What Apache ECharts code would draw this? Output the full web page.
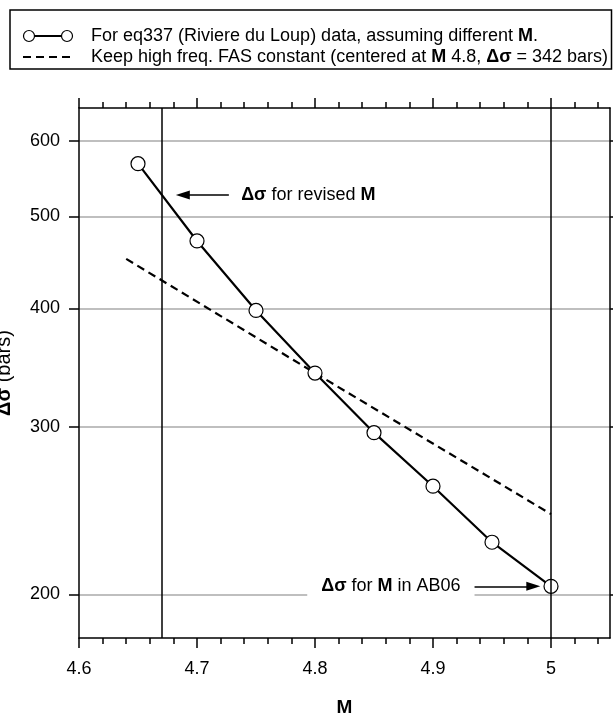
<!DOCTYPE html>
<html><head><meta charset="utf-8">
<script src="https://cdn.jsdelivr.net/npm/echarts@6/dist/echarts.min.js"></script>
<style>html,body{margin:0;padding:0;background:#fff}#c{width:613px;height:715px}</style>
</head><body><div id="c"></div>
<script>
// ---- data ----
const magnitudes = [4.65, 4.70, 4.75, 4.80, 4.85, 4.90, 4.95, 5.00];
const stressDrops = [568, 471, 398, 342, 296, 260, 227, 204];
const constFasM = [4.64, 4.80, 5.00];
const constFasStress = [451, 342, 243];
const yTickValues = [200, 300, 400, 500, 600];
const xMajorTicks = [4.6, 4.7, 4.8, 4.9, 5.0];
const xMinorTicks = [4.62, 4.64, 4.66, 4.68, 4.72, 4.74, 4.76, 4.78, 4.82, 4.84, 4.86, 4.88, 4.92, 4.94, 4.96, 4.98, 5.02, 5.04];
const revisedM = 4.67;
const ab06M = 5.0;
// annotation anchors (data coords)
const arrowRevised = [[4.727, 526.5], [4.688, 526.5]];
const arrowAB06 = [[4.934, 204], [4.985, 204]];
const labelRevisedAt = [4.737, 526.5];
const labelAB06At = [4.793, 204];

const FONT = "'Liberation Sans', Arial, Helvetica, sans-serif";
const BLACK = '#000';

const chart = echarts.init(document.getElementById('c'), null, {renderer: 'canvas'});

function xAxisDef(pos, major) {
  return {
    type: 'value', position: pos, min: 4.6, max: 5.05,
    axisLine: {show: major, onZero: false, lineStyle: {color: BLACK, width: 1.5}},
    axisTick: {show: true, inside: false, length: major ? 10 : 6,
      customValues: major ? xMajorTicks : xMinorTicks,
      lineStyle: {color: BLACK, width: 1.5}},
    axisLabel: (major && pos === 'bottom') ? {show: true, customValues: xMajorTicks, fontSize: 18, color: BLACK,
      fontFamily: FONT, margin: 22, formatter: v => String(+(+v).toFixed(2))} : {show: false},
    splitLine: {show: false},
    name: (major && pos === 'bottom') ? 'M' : '',
    nameLocation: 'middle', nameGap: 60,
    nameTextStyle: {fontWeight: 'bold', fontSize: 19, color: BLACK, fontFamily: FONT}
  };
}
function yAxisDef(pos) {
  const left = pos === 'left';
  return {
    type: 'log', logBase: 10, min: 180, max: 650, position: pos,
    axisLine: {show: true, onZero: false, lineStyle: {color: BLACK, width: 1.5}},
    axisTick: {show: true, inside: false, length: 10, customValues: yTickValues,
      lineStyle: {color: BLACK, width: 1.5}},
    axisLabel: left ? {show: true, customValues: yTickValues, fontSize: 18, color: BLACK,
      fontFamily: FONT, margin: 19} : {show: false},
    minorTick: {show: false},
    splitLine: {show: left, lineStyle: {color: '#aaa', width: 1.5}},
    name: left ? '{b|Δσ} (bars)' : '',
    nameLocation: 'middle', nameGap: 65, nameRotate: 90,
    nameTextStyle: {fontSize: 20, color: BLACK, fontFamily: FONT,
      rich: {b: {fontWeight: 'bold', fontSize: 20, color: BLACK, fontFamily: FONT}}}
  };
}

const labelText = {color: BLACK, fontSize: 18, fontFamily: FONT};

chart.setOption({
  animation: false,
  backgroundColor: '#fff',
  textStyle: {fontFamily: FONT},
  grid: {left: 79, right: 3, top: 108, bottom: 77, containLabel: false, outerBoundsMode: 'none'},
  xAxis: [xAxisDef('bottom', true), xAxisDef('top', true), xAxisDef('bottom', false), xAxisDef('top', false)],
  yAxis: [yAxisDef('left'), yAxisDef('right')],
  graphic: [
    {type: 'rect', z: 10, shape: {x: 10, y: 10, width: 601.5, height: 59},
      style: {fill: '#fff', stroke: BLACK, lineWidth: 1.5}},
    {type: 'line', z: 11, shape: {x1: 29, y1: 36, x2: 67, y2: 36}, style: {stroke: BLACK, lineWidth: 2}},
    {type: 'circle', z: 12, shape: {cx: 29, cy: 36, r: 5.5}, style: {fill: '#fff', stroke: BLACK, lineWidth: 1.2}},
    {type: 'circle', z: 12, shape: {cx: 67, cy: 36, r: 5.5}, style: {fill: '#fff', stroke: BLACK, lineWidth: 1.2}},
    {type: 'line', z: 11, shape: {x1: 23, y1: 57, x2: 75, y2: 57}, style: {stroke: BLACK, lineWidth: 2, lineDash: [8, 5]}},
    {type: 'text', z: 12, x: 91, y: 36, style: {
      text: 'For eq337 (Riviere du Loup) data, assuming different {b|M}.',
      fill: BLACK, fontSize: 18, fontFamily: FONT, verticalAlign: 'middle',
      rich: {b: {fontWeight: 'bold', fontSize: 18, fontFamily: FONT, fill: BLACK}}}},
    {type: 'text', z: 12, x: 91, y: 57, style: {
      text: 'Keep high freq. FAS constant (centered at {b|M} 4.8, {b|Δσ} = 342 bars)',
      fill: BLACK, fontSize: 18, fontFamily: FONT, verticalAlign: 'middle',
      rich: {b: {fontWeight: 'bold', fontSize: 18, fontFamily: FONT, fill: BLACK}}}}
  ],
  series: [
    {
      name: 'annotations', type: 'line', data: [], z: 1, silent: true,
      markLine: {
        silent: true, animation: false, symbol: ['none', 'none'],
        label: {show: false},
        lineStyle: {color: BLACK, width: 1.5, type: 'solid'},
        data: [
          {xAxis: revisedM},
          {xAxis: ab06M},
          [{coord: arrowRevised[0], symbol: 'none'}, {coord: arrowRevised[1], symbol: 'triangle', symbolSize: [9, 14]}],
          [{coord: arrowAB06[0], symbol: 'none'}, {coord: arrowAB06[1], symbol: 'triangle', symbolSize: [9, 14]}]
        ]
      },
      markPoint: {
        silent: true, animation: false, symbol: 'rect', symbolSize: 1,
        itemStyle: {color: 'rgba(0,0,0,0)'},
        data: [
          {coord: labelRevisedAt, label: {show: true, position: 'right', distance: 0,
            formatter: '{b|Δσ} for revised {b|M}', ...labelText,
            rich: {b: {fontWeight: 'bold', ...labelText}}}},
          {coord: labelAB06At, label: {show: true, position: 'right', distance: 0,
            formatter: '{b|Δσ} for {b|M} in AB06', ...labelText,
            backgroundColor: '#fff', padding: [4, 14, 4, 14],
            rich: {b: {fontWeight: 'bold', ...labelText}}}}
        ]
      }
    },
    {
      name: 'constant FAS', type: 'line', z: 2,
      data: constFasM.map((m, i) => [m, constFasStress[i]]),
      showSymbol: false, symbol: 'none',
      lineStyle: {color: BLACK, width: 2.2, type: [8, 5]}
    },
    {
      name: 'eq337', type: 'line', z: 3,
      data: magnitudes.map((m, i) => [m, stressDrops[i]]),
      symbol: 'circle', symbolSize: 14, showAllSymbol: true,
      lineStyle: {color: BLACK, width: 2.2},
      itemStyle: {color: '#fff', borderColor: BLACK, borderWidth: 1.2}
    }
  ]
});
</script>
</body></html>
